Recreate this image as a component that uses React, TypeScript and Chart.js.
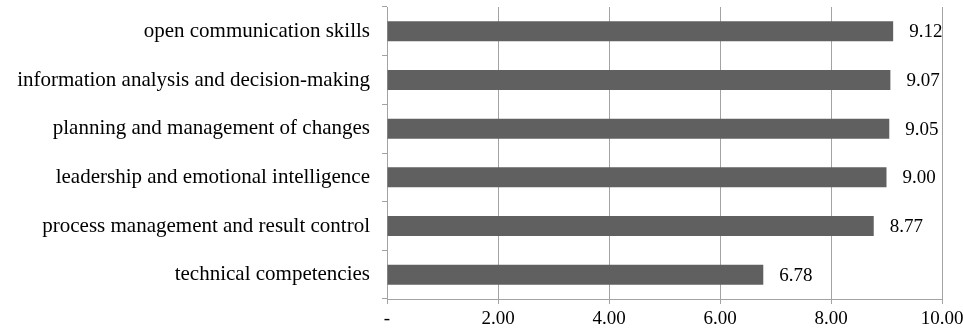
import React, { useEffect, useRef } from "react";
import { Chart, registerables } from "chart.js";

Chart.register(...registerables);

const categories = [
  "open communication skills",
  "information analysis and decision-making",
  "planning and management of changes",
  "leadership and emotional intelligence",
  "process management and result control",
  "technical competencies",
];
const values = [9.12, 9.07, 9.05, 9.0, 8.77, 6.78];
const xTicks = [0, 2, 4, 6, 8, 10];

const FONT = "'Liberation Serif', 'Times New Roman', serif";
const BAR = "#606060";
const GRID = "#a3a3a3";

const valueLabels = {
  id: "valueLabels",
  afterDatasetsDraw(chart: any) {
    const ctx = chart.ctx;
    const meta = chart.getDatasetMeta(0);
    ctx.save();
    ctx.font = `19px ${FONT}`;
    ctx.fillStyle = "#000";
    ctx.textAlign = "left";
    ctx.textBaseline = "middle";
    meta.data.forEach((bar: any, i: number) => {
      ctx.fillText(values[i].toFixed(2), bar.x + 16, bar.y + 1);
    });
    ctx.restore();
  },
};

export default function App() {
  const ref = useRef<HTMLCanvasElement | null>(null);
  useEffect(() => {
    if (!ref.current) return;
    const chart = new Chart(ref.current, {
      type: "bar",
      data: {
        labels: categories,
        datasets: [
          {
            data: values,
            backgroundColor: BAR,
            borderWidth: 0,
            categoryPercentage: 1,
            barPercentage: 0.41,
          },
        ],
      },
      options: {
        indexAxis: "y",
        responsive: false,
        animation: false,
        events: [],
        layout: { padding: { top: 7, right: 21, left: 0, bottom: 0 } },
        plugins: { legend: { display: false }, tooltip: { enabled: false } },
        scales: {
          x: {
            min: 0,
            max: 10,
            afterBuildTicks: (scale: any) => {
              scale.ticks = xTicks.map((v) => ({ value: v }));
            },
            afterFit: (scale: any) => {
              scale.height = 31;
              scale.paddingLeft = 0;
              scale.paddingRight = 0;
            },
            grid: { color: GRID, lineWidth: 1, tickLength: 5, drawTicks: true },
            border: { display: true, color: GRID },
            ticks: {
              padding: 4,
              color: "#000",
              font: { family: FONT, size: 19 },
              maxRotation: 0,
              callback: (v: any) => (Number(v) === 0 ? "-" : Number(v).toFixed(2)),
            },
          },
          y: {
            afterFit: (scale: any) => {
              scale.width = 387;
              scale.paddingTop = 0;
              scale.paddingBottom = 0;
            },
            grid: {
              offset: true,
              drawOnChartArea: false,
              drawTicks: true,
              tickLength: 5,
              color: GRID,
            },
            border: { display: true, color: GRID },
            ticks: {
              padding: 12,
              color: "#000",
              font: { family: FONT, size: 21 },
            },
          },
        },
      },
      plugins: [valueLabels],
    });
    return () => chart.destroy();
  }, []);
  return (
    <div style={{ position: "fixed", left: 0, top: 0, width: 963, height: 330, background: "#fff" }}>
      <canvas ref={ref} width={963} height={330} style={{ display: "block" }} />
    </div>
  );
}
